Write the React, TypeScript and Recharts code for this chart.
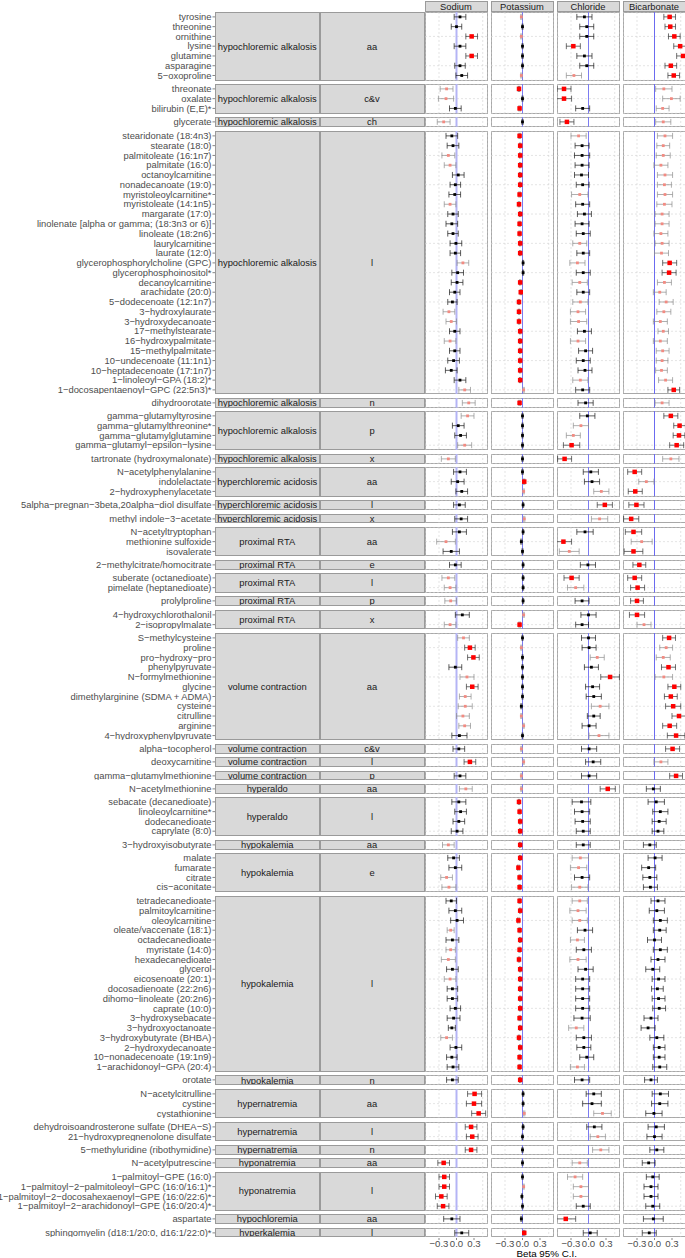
import React from 'react'
import { ScatterChart, Scatter, XAxis, YAxis, CartesianGrid, ReferenceLine, ErrorBar } from 'recharts'

// ---- data ----
const metabolites = [
  'tyrosine', 'threonine', 'ornithine', 'lysine', 'glutamine', 'asparagine', '5-oxoproline',
  'threonate', 'oxalate', 'bilirubin (E,E)*',
  'glycerate',
  'stearidonate (18:4n3)', 'stearate (18:0)', 'palmitoleate (16:1n7)', 'palmitate (16:0)', 'octanoylcarnitine',
  'nonadecanoate (19:0)', 'myristoleoylcarnitine*', 'myristoleate (14:1n5)', 'margarate (17:0)',
  'linolenate [alpha or gamma; (18:3n3 or 6)]', 'linoleate (18:2n6)', 'laurylcarnitine', 'laurate (12:0)',
  'glycerophosphorylcholine (GPC)', 'glycerophosphoinositol*', 'decanoylcarnitine', 'arachidate (20:0)',
  '5-dodecenoate (12:1n7)', '3-hydroxylaurate', '3-hydroxydecanoate', '17-methylstearate', '16-hydroxypalmitate',
  '15-methylpalmitate', '10-undecenoate (11:1n1)', '10-heptadecenoate (17:1n7)', '1-linoleoyl-GPA (18:2)*',
  '1-docosapentaenoyl-GPC (22:5n3)*',
  'dihydroorotate',
  'gamma-glutamyltyrosine', 'gamma-glutamylthreonine*', 'gamma-glutamylglutamine', 'gamma-glutamyl-epsilon-lysine',
  'tartronate (hydroxymalonate)',
  'N-acetylphenylalanine', 'indolelactate', '2-hydroxyphenylacetate',
  '5alpha-pregnan-3beta,20alpha-diol disulfate',
  'methyl indole-3-acetate',
  'N-acetyltryptophan', 'methionine sulfoxide', 'isovalerate',
  '2-methylcitrate/homocitrate',
  'suberate (octanedioate)', 'pimelate (heptanedioate)',
  'prolylproline',
  '4-hydroxychlorothalonil', '2-isopropylmalate',
  'S-methylcysteine', 'proline', 'pro-hydroxy-pro', 'phenylpyruvate', 'N-formylmethionine', 'glycine',
  'dimethylarginine (SDMA + ADMA)', 'cysteine', 'citrulline', 'arginine', '4-hydroxyphenylpyruvate',
  'alpha-tocopherol',
  'deoxycarnitine',
  'gamma-glutamylmethionine',
  'N-acetylmethionine',
  'sebacate (decanedioate)', 'linoleoylcarnitine*', 'dodecanedioate', 'caprylate (8:0)',
  '3-hydroxyisobutyrate',
  'malate', 'fumarate', 'citrate', 'cis-aconitate',
  'tetradecanedioate', 'palmitoylcarnitine', 'oleoylcarnitine', 'oleate/vaccenate (18:1)', 'octadecanedioate',
  'myristate (14:0)', 'hexadecanedioate', 'glycerol', 'eicosenoate (20:1)', 'docosadienoate (22:2n6)',
  'dihomo-linoleate (20:2n6)', 'caprate (10:0)', '3-hydroxysebacate', '3-hydroxyoctanoate', '3-hydroxybutyrate (BHBA)',
  '2-hydroxydecanoate', '10-nonadecenoate (19:1n9)', '1-arachidonoyl-GPA (20:4)',
  'orotate',
  'N-acetylcitrulline', 'cystine', 'cystathionine',
  'dehydroisoandrosterone sulfate (DHEA-S)', '21-hydroxypregnenolone disulfate',
  '5-methyluridine (ribothymidine)',
  'N-acetylputrescine',
  '1-palmitoyl-GPE (16:0)', '1-palmitoyl-2-palmitoleoyl-GPC (16:0/16:1)*',
  '1-palmitoyl-2-docosahexaenoyl-GPE (16:0/22:6)*', '1-palmitoyl-2-arachidonoyl-GPE (16:0/20:4)*',
  'aspartate',
  'sphingomyelin (d18:1/20:0, d16:1/22:0)*',
]

const conditions = [
  'hypochloremic alkalosis', 'hypochloremic alkalosis', 'hypochloremic alkalosis', 'hypochloremic alkalosis',
  'hypochloremic alkalosis', 'hypochloremic alkalosis', 'hypochloremic alkalosis',
  'hyperchloremic acidosis', 'hyperchloremic acidosis', 'hyperchloremic acidosis',
  'proximal RTA', 'proximal RTA', 'proximal RTA', 'proximal RTA', 'proximal RTA',
  'volume contraction', 'volume contraction', 'volume contraction', 'volume contraction',
  'hyperaldo', 'hyperaldo',
  'hypokalemia', 'hypokalemia', 'hypokalemia', 'hypokalemia',
  'hypernatremia', 'hypernatremia', 'hypernatremia',
  'hyponatremia', 'hyponatremia',
  'hypochloremia',
  'hyperkalemia',
]
const classes = [
  'aa', 'c&v', 'ch', 'l', 'n', 'p', 'x',
  'aa', 'l', 'x',
  'aa', 'e', 'l', 'p', 'x',
  'aa', 'c&v', 'l', 'p',
  'aa', 'l',
  'aa', 'e', 'l', 'n',
  'aa', 'l', 'n',
  'aa', 'l',
  'aa',
  'l',
]
const groupSizes = [7, 3, 1, 27, 1, 4, 1, 3, 1, 1, 3, 1, 2, 1, 2, 11, 1, 1, 1, 1, 4, 1, 4, 18, 1, 3, 2, 1, 1, 4, 1, 1]

const panelNames = ['Sodium', 'Potassium', 'Chloride', 'Bicarbonate']
const xTicks = [-0.3, 0, 0.3]

// significance: 0 = n.s., 1 = nominal, 2 = significant
const sodiumEst = [
  0.06, 0.0, 0.26, 0.06, 0.26, 0.06, 0.09, -0.17, -0.18, -0.02, -0.22,
  -0.08, -0.06, -0.14, -0.11, 0.03, -0.02, -0.03, -0.11, -0.06, -0.08,
  -0.06, -0.01, -0.02, 0.11, 0.02, 0.01, -0.03, -0.07, -0.13, -0.09,
  -0.03, -0.11, -0.03, -0.05, -0.09, 0.06, 0.14,
  0.21, 0.19, 0.03, 0.07, 0.14, -0.14, 0.06, 0.02, 0.09, 0.05, 0.08, 0.05, -0.18, -0.09, -0.02, -0.14, -0.11, -0.10, 0.10, -0.11,
  0.12, 0.23, 0.29, -0.02, 0.18, 0.27, 0.15, 0.15, 0.11, 0.14, 0.05, 0.04, 0.23, 0.06, 0.16, 0.04, 0.07, 0.04, 0.01, -0.14,
  -0.05, -0.02, -0.17, -0.13,
  -0.09, -0.02, 0.01, -0.10, -0.07, -0.10, -0.14, -0.07, -0.11, -0.07, -0.07, -0.02, -0.05, -0.08, -0.17, -0.01, -0.08, -0.06,
  -0.07,
  0.31, 0.30, 0.38, 0.25, 0.27, 0.25, -0.22, -0.21, -0.21, -0.26, -0.23, -0.08, 0.09,
]
const sodiumCi = [
  0.10, 0.09, 0.10, 0.10, 0.10, 0.09, 0.10, 0.11, 0.13, 0.10, 0.11,
  0.10, 0.10, 0.11, 0.10, 0.10, 0.09, 0.10, 0.10, 0.09, 0.10,
  0.09, 0.10, 0.09, 0.10, 0.10, 0.10, 0.09, 0.08, 0.10, 0.09,
  0.09, 0.10, 0.09, 0.10, 0.10, 0.10, 0.10,
  0.11, 0.11, 0.10, 0.10, 0.12, 0.12, 0.11, 0.11, 0.10, 0.10, 0.11, 0.12, 0.16, 0.14, 0.10, 0.11, 0.10, 0.10, 0.12, 0.10,
  0.10, 0.09, 0.10, 0.11, 0.12, 0.10, 0.10, 0.12, 0.11, 0.10, 0.13, 0.10, 0.10, 0.10, 0.11, 0.12, 0.10, 0.10, 0.10, 0.10,
  0.10, 0.11, 0.10, 0.12,
  0.09, 0.11, 0.11, 0.06, 0.11, 0.08, 0.12, 0.10, 0.10, 0.09, 0.09, 0.09, 0.11, 0.06, 0.10, 0.10, 0.09, 0.10,
  0.10,
  0.12, 0.13, 0.12, 0.10, 0.10, 0.10, 0.10, 0.09, 0.09, 0.10, 0.10, 0.14, 0.12,
]
const sodiumSig = [
  0, 0, 2, 0, 2, 0, 0, 1, 1, 0, 1,
  0, 0, 1, 1, 0, 0, 0, 1, 0, 0,
  0, 0, 0, 1, 0, 0, 0, 0, 1, 1,
  0, 1, 0, 0, 0, 0, 1,
  1, 1, 0, 0, 1, 1, 0, 0, 0, 0, 0, 0, 1, 0, 0, 1, 1, 1, 0, 1,
  1, 2, 2, 0, 1, 2, 1, 1, 1, 1, 0, 0, 2, 0, 1, 0, 0, 0, 0, 1,
  0, 0, 1, 1,
  0, 0, 0, 1, 0, 1, 1, 0, 1, 0, 0, 0, 0, 0, 1, 0, 0, 0,
  0,
  2, 2, 2, 2, 2, 2, 2, 2, 2, 2, 2, 0, 0,
]

const potassiumEst = [
  -0.02, 0, -0.02, 0, 0, 0, -0.02, -0.06, 0, -0.05, 0,
  -0.05, -0.04, -0.04, -0.04, -0.04, -0.04, -0.05, -0.06, -0.04, -0.05,
  -0.05, -0.04, -0.04, 0.01, 0.01, -0.04, -0.03, -0.06, -0.06, -0.06,
  -0.04, -0.04, -0.04, -0.04, -0.04, -0.04, 0.02,
  -0.05, 0, 0, 0, 0, 0, 0, 0.03, 0.02, 0.01, 0.03, 0.01, -0.02, 0, 0.01, 0.01, 0.01, 0.01, 0.02, -0.05,
  0, -0.02, 0, 0, 0, 0, 0, -0.02, -0.02, 0.02, 0, -0.02, 0.02, -0.02, -0.02, -0.06, -0.05, -0.04, -0.04, -0.04,
  -0.04, -0.07, -0.05, -0.05,
  -0.05, -0.04, -0.07, -0.05, -0.04, -0.05, -0.06, -0.04, -0.04, -0.04, -0.04, -0.04, -0.05, -0.04, -0.06, -0.04, -0.05, -0.05,
  -0.04,
  0.01, 0.01, 0.03, 0.01, 0, 0, 0, 0, 0.02, -0.01, 0, -0.02, 0.03,
]
const potassiumCi = [
  0.010, 0.008, 0.010, 0.008, 0.009, 0.008, 0.010, 0.012, 0.009, 0.011, 0.009,
  0.010, 0.010, 0.011, 0.010, 0.010, 0.009, 0.011, 0.012, 0.010, 0.010,
  0.010, 0.010, 0.010, 0.009, 0.009, 0.010, 0.010, 0.012, 0.011, 0.011,
  0.010, 0.010, 0.010, 0.010, 0.010, 0.010, 0.010,
  0.011, 0.008, 0.008, 0.008, 0.009, 0.009, 0.009, 0.010, 0.010, 0.009, 0.010, 0.009, 0.010, 0.009, 0.009, 0.009, 0.009, 0.009, 0.010, 0.011,
  0.008, 0.009, 0.008, 0.008, 0.008, 0.008, 0.008, 0.009, 0.009, 0.009, 0.008, 0.009, 0.009, 0.009, 0.009, 0.011, 0.010, 0.010, 0.010, 0.010,
  0.010, 0.012, 0.010, 0.010,
  0.010, 0.010, 0.012, 0.010, 0.010, 0.010, 0.011, 0.010, 0.010, 0.010, 0.010, 0.010, 0.010, 0.010, 0.011, 0.010, 0.010, 0.010,
  0.010,
  0.009, 0.009, 0.010, 0.009, 0.008, 0.008, 0.008, 0.008, 0.009, 0.008, 0.008, 0.009, 0.010,
]
const potassiumSig = [
  1, 0, 1, 0, 0, 0, 1, 2, 0, 2, 0,
  2, 2, 2, 2, 2, 2, 2, 2, 2, 2,
  2, 2, 2, 0, 0, 2, 2, 2, 2, 2,
  2, 2, 2, 2, 2, 2, 1,
  2, 0, 0, 0, 0, 0, 0, 2, 1, 0, 1, 0, 0, 0, 0, 0, 0, 0, 1, 2,
  0, 1, 0, 0, 0, 0, 0, 0, 1, 1, 0, 1, 1, 1, 1, 2, 2, 2, 2, 2,
  2, 2, 2, 2,
  2, 2, 2, 2, 2, 2, 2, 2, 2, 2, 2, 2, 2, 2, 2, 2, 2, 2,
  2,
  0, 0, 1, 0, 0, 0, 0, 0, 1, 0, 0, 0, 2,
]

const chlorideEst = [
  -0.07, -0.03, -0.03, -0.26, -0.07, -0.03, -0.25, -0.42, -0.42, -0.10, -0.37,
  -0.17, -0.11, -0.11, -0.11, -0.12, -0.10, -0.15, -0.10, -0.07, -0.11,
  -0.09, -0.15, -0.09, -0.19, -0.09, -0.15, -0.09, -0.14, -0.18, -0.17,
  -0.07, -0.18, -0.05, -0.09, -0.06, -0.14, -0.10,
  -0.05, -0.02, -0.13, -0.26, -0.29, -0.41, 0.04, 0.06, 0.22, 0.28, 0.19, -0.06, -0.43, -0.33, -0.01, -0.29, -0.22, -0.11, 0, -0.11,
  0, 0.01, 0.15, 0.05, 0.37, 0.07, 0.09, 0.20, 0.09, 0.01, 0.18, 0.01, 0.08, 0.01, 0.33, -0.12, -0.11, -0.10, -0.09, -0.09,
  -0.14, -0.17, -0.11, -0.15,
  -0.15, -0.18, -0.15, -0.06, -0.19, -0.08, -0.18, -0.05, -0.10, -0.10, -0.10, -0.10, -0.11, -0.21, -0.08, -0.08, -0.03, -0.19,
  -0.11,
  0.09, 0.06, 0.24, 0.10, 0.16, 0.21, -0.15, -0.23, -0.13, -0.13, -0.09, -0.39, 0.03,
]
const chlorideCi = [
  0.13, 0.12, 0.12, 0.12, 0.13, 0.12, 0.13, 0.12, 0.13, 0.12, 0.12,
  0.13, 0.12, 0.13, 0.12, 0.12, 0.11, 0.14, 0.12, 0.12, 0.12,
  0.12, 0.12, 0.11, 0.13, 0.12, 0.13, 0.11, 0.13, 0.13, 0.14,
  0.12, 0.13, 0.12, 0.12, 0.12, 0.13, 0.12,
  0.13, 0.13, 0.13, 0.12, 0.14, 0.12, 0.13, 0.13, 0.13, 0.13, 0.14, 0.14, 0.14, 0.17, 0.13, 0.13, 0.14, 0.12, 0.13, 0.11,
  0.12, 0.12, 0.12, 0.12, 0.16, 0.12, 0.13, 0.15, 0.11, 0.12, 0.17, 0.13, 0.13, 0.13, 0.13, 0.16, 0.13, 0.13, 0.12, 0.12,
  0.14, 0.14, 0.13, 0.14,
  0.13, 0.14, 0.13, 0.13, 0.12, 0.13, 0.14, 0.13, 0.12, 0.12, 0.12, 0.12, 0.14, 0.13, 0.13, 0.12, 0.12, 0.12,
  0.13,
  0.13, 0.16, 0.15, 0.13, 0.13, 0.14, 0.13, 0.13, 0.13, 0.13, 0.12, 0.17, 0.12,
]
const chlorideSig = [
  0, 0, 0, 2, 0, 0, 1, 2, 2, 0, 2,
  1, 0, 0, 0, 0, 0, 1, 0, 0, 0,
  0, 1, 0, 1, 0, 1, 0, 1, 1, 1,
  0, 1, 0, 0, 0, 1, 0,
  0, 0, 1, 1, 2, 2, 0, 0, 1, 2, 1, 0, 2, 1, 0, 2, 1, 0, 0, 0,
  0, 0, 1, 0, 2, 0, 0, 1, 0, 0, 1, 0, 0, 0, 2, 0, 0, 0, 0, 0,
  1, 1, 0, 1,
  1, 1, 1, 0, 1, 0, 1, 0, 0, 0, 0, 0, 0, 1, 0, 0, 0, 1,
  0,
  0, 0, 1, 0, 1, 1, 1, 1, 1, 1, 0, 2, 0,
]

const bicarbonateEst = [
  0.26, 0.27, 0.34, 0.44, 0.49, 0.28, 0.33, 0.16, 0.29, 0.14, 0.15,
  0.18, 0.15, 0.15, 0.11, 0.18, 0.17, 0.18, 0.17, 0.13, 0.13,
  0.11, 0.13, 0.12, 0.26, 0.25, 0.17, 0.09, 0.20, 0.16, 0.10,
  0.15, 0.10, 0.14, 0.13, 0.12, 0.19, 0.33,
  0.13, 0.28, 0.43, 0.42, 0.38, 0.28, -0.34, -0.14, -0.33, -0.31, -0.40, -0.36, -0.22, -0.36, -0.26, -0.34, -0.29, -0.30, -0.30, -0.18,
  0.25, 0.20, 0.15, 0.24, 0.16, 0.34, 0.28, 0.32, 0.42, 0.26, 0.37, 0.31, 0.11, 0.37, -0.02, 0.03, 0.10, 0.08, 0.06, -0.08,
  0.01, -0.10, -0.08, -0.07,
  0.06, 0.04, 0.10, 0.09, 0, 0.10, 0.06, -0.03, 0.07, 0.05, 0.07, 0.08, -0.06, -0.11, 0.04, 0.08, 0.08, 0.09,
  -0.06,
  0.10, 0.09, -0.01, 0.03, 0, 0.04, -0.10, -0.03, -0.06, -0.06, -0.03, -0.02, -0.09,
]
const bicarbonateCi = [
  0.10, 0.09, 0.10, 0.11, 0.11, 0.10, 0.10, 0.14, 0.15, 0.11, 0.13,
  0.13, 0.11, 0.12, 0.12, 0.13, 0.12, 0.13, 0.13, 0.12, 0.12,
  0.12, 0.12, 0.12, 0.12, 0.12, 0.12, 0.11, 0.12, 0.12, 0.12,
  0.09, 0.12, 0.11, 0.10, 0.10, 0.12, 0.10,
  0.12, 0.12, 0.10, 0.10, 0.12, 0.14, 0.12, 0.13, 0.12, 0.13, 0.13, 0.14, 0.18, 0.16, 0.11, 0.12, 0.12, 0.11, 0.13, 0.12,
  0.11, 0.11, 0.12, 0.12, 0.15, 0.11, 0.11, 0.13, 0.12, 0.12, 0.15, 0.12, 0.12, 0.11, 0.12, 0.14, 0.13, 0.12, 0.10, 0.11,
  0.12, 0.12, 0.12, 0.12,
  0.12, 0.13, 0.12, 0.11, 0.12, 0.12, 0.12, 0.12, 0.11, 0.10, 0.11, 0.11, 0.12, 0.12, 0.12, 0.10, 0.10, 0.12,
  0.11,
  0.14, 0.14, 0.14, 0.14, 0.13, 0.12, 0.11, 0.11, 0.12, 0.12, 0.12, 0.17, 0.12,
]
const bicarbonateSig = [
  2, 2, 2, 2, 2, 2, 2, 1, 1, 1, 1,
  1, 1, 1, 1, 1, 1, 1, 1, 1, 1,
  1, 1, 1, 2, 2, 1, 1, 1, 1, 1,
  1, 1, 1, 1, 1, 1, 2,
  1, 2, 2, 2, 2, 1, 2, 1, 2, 2, 2, 2, 1, 2, 2, 2, 2, 2, 2, 1,
  2, 1, 1, 2, 1, 2, 2, 2, 2, 2, 2, 2, 1, 2, 0, 0, 0, 0, 0, 0,
  0, 0, 0, 0,
  0, 0, 0, 0, 0, 0, 0, 0, 0, 0, 0, 0, 0, 0, 0, 0, 0, 0,
  0,
  0, 0, 0, 0, 0, 0, 0, 0, 0, 0, 0, 0, 0,
]

// ---- layout ----
const LEFT_W = 424
const LABEL_W = 215
const STRIP_W = 104.5
const PANEL_W = 63
const PANEL_GAP = 3
const FIRST_GAP = 0.5
const ROW_H = 9.77
const GROUP_GAP = 3.6
const TOP = 12.3
const DOMAIN: [number, number] = [-0.54, 0.54]
const GRID_X = [-0.45, -0.3, -0.15, 0, 0.15, 0.3, 0.45]
const FONT = '"Liberation Sans", Arial, Helvetica, sans-serif'

const panels = [
  { est: sodiumEst, ci: sodiumCi, sig: sodiumSig, zero: '#b4b4f5', zeroW: 2 },
  { est: potassiumEst, ci: potassiumCi, sig: potassiumSig, zero: '#7b7bf2', zeroW: 1 },
  { est: chlorideEst, ci: chlorideCi, sig: chlorideSig, zero: '#7b7bf2', zeroW: 1 },
  { est: bicarbonateEst, ci: bicarbonateCi, sig: bicarbonateSig, zero: '#6a6af0', zeroW: 1 },
]

const sigStyles = [
  { fill: '#000000', bar: '#1a1a1a', size: 2.8 },
  { fill: '#f28b82', bar: '#8c8c8c', size: 2.8 },
  { fill: '#ff0000', bar: '#333333', size: 4.5 },
]

const minus = (s: string) => s.replace(/-/g, '\u2212')
const fmtTick = (v: number) => (v === 0 ? '0.0' : (v < 0 ? '\u2212' : '') + Math.abs(v).toFixed(1))

const groups = groupSizes.map((n, g) => ({
  n,
  start: groupSizes.slice(0, g).reduce((a, b) => a + b, 0),
  cond: conditions[g],
  cls: classes[g],
}))

const square = (size: number, fill: string) => (props: any) => {
  const { cx, cy } = props
  if (cx == null || cy == null) return <g />
  return <rect x={cx - size / 2} y={cy - size / 2} width={size} height={size} fill={fill} />
}

// single-line tick (no wrapping of long names)
const labelTick = (start: number) => (props: any) => {
  const { x, y, payload } = props
  return (
    <text x={x} y={y} dy="0.34em" textAnchor="end" fontSize={9.4} fill="#4d4d4d" fontFamily={FONT}>
      {minus(metabolites[start + payload.value])}
    </text>
  )
}

const stripStyle = (left: number, width: number, h: number): React.CSSProperties => ({
  position: 'absolute', left, top: 0, width, height: h, boxSizing: 'border-box',
  background: '#d9d9d9', border: '1px solid #9a9a9a',
  display: 'flex', alignItems: 'center', justifyContent: 'center',
  fontSize: 9.4, color: '#1a1a1a', whiteSpace: 'nowrap', lineHeight: 1, overflow: 'hidden',
})

function LeftSide({ g }: { g: typeof groups[number] }) {
  const h = g.n * ROW_H
  const rows = Array.from({ length: g.n }, (_, i) => ({ x: 0.5, y: i }))
  return (
    <div style={{ position: 'relative', width: LEFT_W, height: h }}>
      <ScatterChart width={LEFT_W} height={h} margin={{ top: 0, right: 0, bottom: 0, left: 0 }}>
        <XAxis type="number" dataKey="x" domain={[0, 1]} hide />
        <YAxis
          type="number" dataKey="y" domain={[-0.5, g.n - 0.5]} ticks={rows.map((r) => r.y)} reversed
          width={LABEL_W} interval={0} allowDataOverflow axisLine={false}
          tick={labelTick(g.start)}
          tickSize={2.5} tickMargin={1} tickLine={{ stroke: '#333', strokeWidth: 0.6 }}
        />
        <Scatter data={rows} shape={() => <g />} isAnimationActive={false} />
      </ScatterChart>
      <div style={stripStyle(LABEL_W, STRIP_W, h)}>{g.cond}</div>
      <div style={stripStyle(LABEL_W + STRIP_W, LEFT_W - LABEL_W - STRIP_W + FIRST_GAP, h)}>{g.cls}</div>
    </div>
  )
}

function Panel({ p, g, first }: { p: typeof panels[number]; g: typeof groups[number]; first: boolean }) {
  const h = g.n * ROW_H
  const rows = Array.from({ length: g.n }, (_, i) => ({
    x: p.est[g.start + i], y: i, ci: p.ci[g.start + i], sig: p.sig[g.start + i],
  }))
  return (
    <div style={{ width: PANEL_W, height: h, outline: '1px solid #a8a8a8', outlineOffset: -1, marginLeft: first ? FIRST_GAP : PANEL_GAP }}>
      <ScatterChart width={PANEL_W} height={h} margin={{ top: 0, right: 0, bottom: 0, left: 0 }}>
        <CartesianGrid strokeDasharray="2 2" stroke="#d2d2d2" strokeWidth={0.6} />
        <XAxis type="number" dataKey="x" domain={DOMAIN} ticks={GRID_X} hide allowDataOverflow />
        <YAxis type="number" dataKey="y" domain={[-0.5, g.n - 0.5]} ticks={rows.map((r) => r.y)} reversed hide allowDataOverflow />
        <ReferenceLine x={0} stroke={p.zero} strokeWidth={p.zeroW} />
        {sigStyles.map((s, k) => (
          <Scatter key={k} data={rows.filter((r) => r.sig === k)} shape={square(s.size, s.fill)} isAnimationActive={false}>
            <ErrorBar dataKey="ci" direction="x" width={3} stroke={s.bar} strokeWidth={0.7} />
          </Scatter>
        ))}
      </ScatterChart>
    </div>
  )
}

export default function App() {
  const total = groupSizes.reduce((a, b) => a + b, 0) * ROW_H + (groupSizes.length - 1) * GROUP_GAP
  return (
    <div style={{ position: 'absolute', left: 0, top: 0, width: 685, height: 1258, background: '#fff', fontFamily: FONT }}>
      {panelNames.map((name, k) => (
        <div key={name} style={{
          position: 'absolute', top: 1, left: LEFT_W + FIRST_GAP + k * (PANEL_W + PANEL_GAP),
          width: PANEL_W, height: 11.3, boxSizing: 'border-box',
          background: '#d9d9d9', border: '1px solid #9a9a9a',
          display: 'flex', alignItems: 'center', justifyContent: 'center',
          fontSize: 9.4, color: '#1a1a1a', lineHeight: 1,
        }}>{name}</div>
      ))}
      <div style={{ position: 'absolute', top: TOP, left: 0, display: 'flex', flexDirection: 'column', gap: GROUP_GAP }}>
        {groups.map((g, gi) => (
          <div key={gi} style={{ display: 'flex', height: g.n * ROW_H }}>
            <LeftSide g={g} />
            {panels.map((p, k) => <Panel key={k} p={p} g={g} first={k === 0} />)}
          </div>
        ))}
      </div>
      <div style={{ position: 'absolute', top: TOP + total - 2, left: LEFT_W, display: 'flex' }}>
        {panels.map((_, k) => (
          <div key={k} style={{ marginLeft: k === 0 ? FIRST_GAP : PANEL_GAP }}>
            <ScatterChart width={PANEL_W} height={16} margin={{ top: 0, right: 0, bottom: 0, left: 0 }}>
              <XAxis
                type="number" dataKey="x" domain={DOMAIN} ticks={xTicks} interval={0} allowDataOverflow
                height={14} axisLine={false} tickFormatter={fmtTick}
                tick={{ fontSize: 9.6, fill: '#4d4d4d', fontFamily: FONT }}
                tickSize={2} tickMargin={0} tickLine={{ stroke: '#333', strokeWidth: 0.6 }}
              />
              <YAxis type="number" dataKey="y" domain={[0, 1]} hide />
              <Scatter data={[{ x: 0, y: 0.5 }]} shape={() => <g />} isAnimationActive={false} />
            </ScatterChart>
          </div>
        ))}
      </div>
      <div style={{
        position: 'absolute', top: 1247.5, left: 496.7, width: 100, textAlign: 'center',
        fontSize: 9.8, color: '#000', lineHeight: '11px',
      }}>Beta 95% C.I.</div>
    </div>
  )
}
